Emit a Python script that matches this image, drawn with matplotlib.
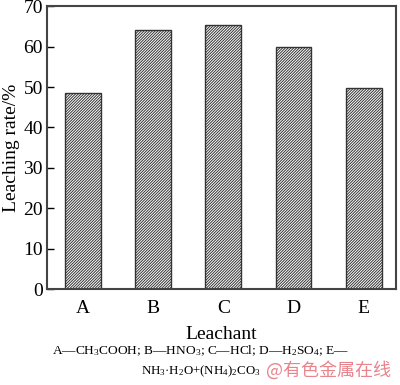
import numpy as np
import matplotlib.pyplot as plt

plt.rcParams['font.family'] = ['Liberation Serif', 'DejaVu Serif']
plt.rcParams['mathtext.fontset'] = 'custom'
plt.rcParams['mathtext.rm'] = 'Liberation Serif'
plt.rcParams['mathtext.default'] = 'rm'
plt.rcParams['hatch.linewidth'] = 0.7
plt.rcParams['hatch.color'] = '#3a3a3a'

categories = ['A', 'B', 'C', 'D', 'E']
rates = [48.6, 64.2, 65.3, 60.0, 49.8]
yticks = [0, 10, 20, 30, 40, 50, 60, 70]

fig = plt.figure(figsize=(4, 3.85), dpi=100)
ax = fig.add_axes([0.1175, 0.249, 0.8725, 0.735])

x = np.arange(len(categories))
ax.bar(x, rates, width=0.51, color='white', edgecolor='#333333',
       linewidth=1.0, hatch='/' * 12)

ax.set_xlim(-0.51, 4.46)
ax.set_ylim(0, 70)
ax.set_yticks(yticks)
ax.set_xticks(x)
ax.set_xticklabels(categories)
ax.tick_params(axis='y', direction='in', length=5, width=1, labelsize=14, pad=3)
ax.tick_params(axis='x', length=0, labelsize=14, pad=8)
for s in ax.spines.values():
    s.set_linewidth(1.5)
    s.set_color('#444444')

ax.set_ylabel('Leaching rate/%', fontsize=14, labelpad=2)
ax.set_xlabel('Leachant', fontsize=14, labelpad=6)

fig.text(0.502, 1 - 351 / 385,
         'A—CH$_3$COOH; B—HNO$_3$; C—HCl; D—H$_2$SO$_4$; E—',
         ha='center', va='center', fontsize=9.6)
fig.text(0.352, 1 - 371 / 385, 'NH$_3$·H$_2$O+(NH$_4$)$_2$CO$_3$',
         ha='left', va='center', fontsize=9.3)
fig.text(0.664, 1 - 370 / 385, '@有色金属在线', ha='left', va='center',
         fontsize=13.0, color='#e8848c',
         family=['Noto Sans CJK SC', 'DejaVu Sans'])

fig.savefig('out.png', dpi=100)
